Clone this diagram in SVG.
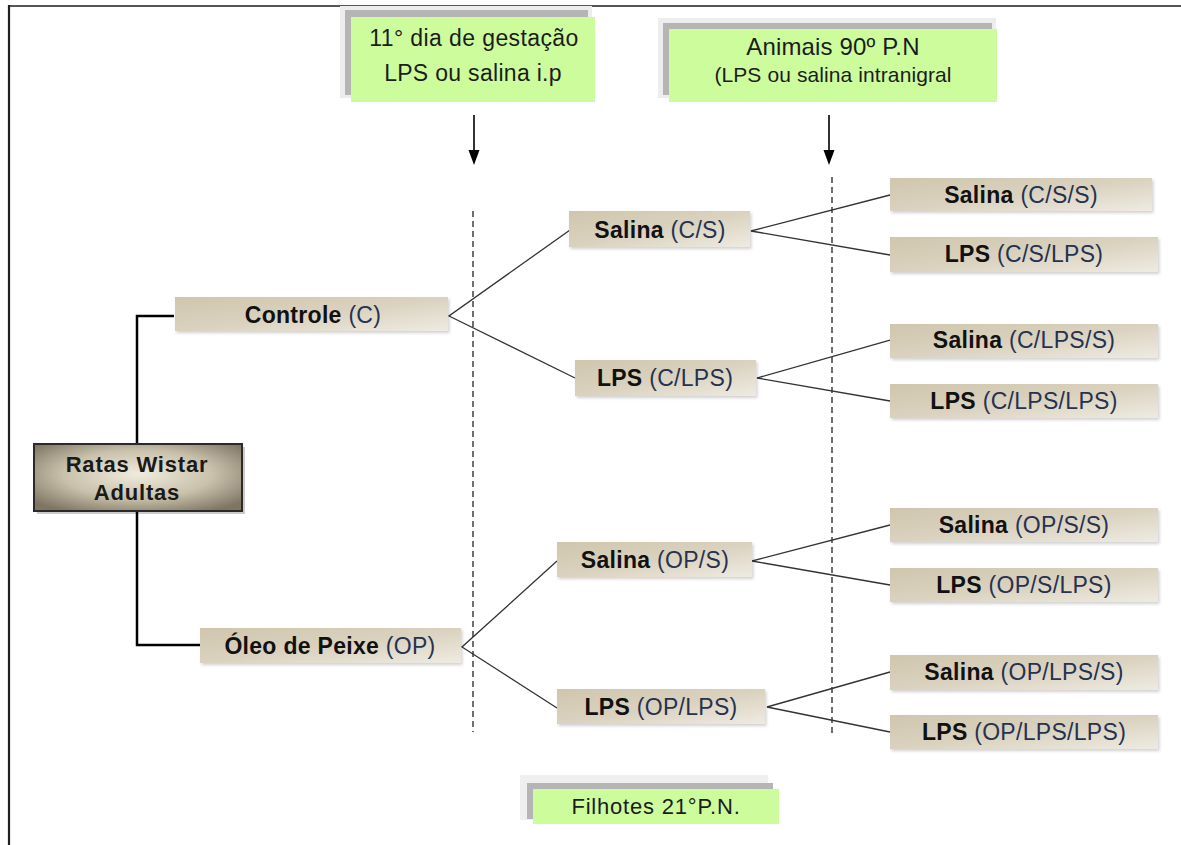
<svg xmlns="http://www.w3.org/2000/svg" width="1181" height="845" viewBox="0 0 1181 845">
<defs>
<style>
text{font-family:"Liberation Sans",Arial,sans-serif;}
.nt{font-size:23px;letter-spacing:0.3px;fill:#26324f;text-anchor:middle;}
.nt tspan.b{font-weight:bold;fill:#111;}
.gt{fill:#1c1c1c;text-anchor:middle;}
.conn{stroke:#333;stroke-width:1.3;fill:none;}
.tree{stroke:#000;stroke-width:2.5;fill:none;}
.dash{stroke:#222;stroke-width:1.3;stroke-dasharray:6,4;fill:none;}
.arr{stroke:#000;stroke-width:1.6;fill:none;}
.node{fill:url(#beige);filter:url(#sh);}
.green{fill:#cdfc9d;}
.gshadow{fill:#b5b5b5;}
</style>
<linearGradient id="beige" x1="0" y1="0" x2="1" y2="1">
<stop offset="0" stop-color="#d0c6ae"/>
<stop offset="0.5" stop-color="#dad2bf"/>
<stop offset="1" stop-color="#efebe2"/>
</linearGradient>
<radialGradient id="root" cx="0.5" cy="0.45" r="0.65">
<stop offset="0" stop-color="#f0ebdc"/>
<stop offset="0.55" stop-color="#c9c1ab"/>
<stop offset="1" stop-color="#7e7663"/>
</radialGradient>
<filter id="sh" x="-5%" y="-20%" width="112%" height="150%">
<feDropShadow dx="1.5" dy="2" stdDeviation="1.5" flood-color="#000" flood-opacity="0.18"/>
</filter>
</defs>
<rect width="1181" height="845" fill="#fff"/>
<!-- frame -->
<line x1="8" y1="6" x2="1181" y2="6" stroke="#555" stroke-width="2.2"/>
<line x1="9" y1="5" x2="9" y2="845" stroke="#222" stroke-width="2.2"/>

<!-- connectors -->
<g id="connectors">
<polyline class="tree" points="174,316 137,316 137,444"/>
<polyline class="tree" points="137,511 137,645 200,645"/>
<line class="dash" x1="473" y1="211" x2="473" y2="732"/>
<line class="dash" x1="832" y1="177" x2="832" y2="736"/>
<path class="arr" d="M474,115 V152"/>
<path d="M468.5,150 L479.5,150 L474,165 Z" fill="#000"/>
<path class="arr" d="M829,115 V152"/>
<path d="M823.5,150 L834.5,150 L829,165 Z" fill="#000"/>
<polyline class="conn" points="570,230 449,316 575,378"/>
<polyline class="conn" points="890,195 751,231 890,255"/>
<polyline class="conn" points="890,340 757,378 890,401"/>
<polyline class="conn" points="557,561 462,647 557,708"/>
<polyline class="conn" points="890,525 752,561 890,585"/>
<polyline class="conn" points="890,672 767,707 890,732"/>
</g>

<!-- top label boxes -->
<g id="label-gestacao">
<rect x="340" y="6" width="252" height="92" fill="#ededed"/>
<rect class="gshadow" x="345" y="10" width="243" height="85"/>
<rect class="green" x="351" y="17" width="244" height="85"/>
<text class="gt" x="474" y="46" font-size="23" letter-spacing="0.4">11° dia de gestação</text>
<text class="gt" x="473" y="81" font-size="23" letter-spacing="0.3">LPS ou salina  i.p</text>
</g>
<g id="label-animais">
<rect x="658" y="18" width="338" height="80" fill="#ededed"/>
<rect class="gshadow" x="663" y="23" width="329" height="72"/>
<rect class="green" x="669" y="29" width="328" height="73"/>
<text class="gt" x="833" y="55" font-size="24" letter-spacing="0.15">Animais 90º P.N</text>
<text class="gt" x="833" y="82" font-size="21" letter-spacing="0.1">(LPS ou salina  intranigral</text>
</g>
<g id="label-filhotes">
<rect x="520" y="775" width="248" height="45" fill="#efefef"/>
<rect class="gshadow" x="527" y="783" width="246" height="36"/>
<rect class="green" x="533" y="789" width="246" height="35"/>
<text class="gt" x="656" y="814" font-size="22" letter-spacing="0.8">Filhotes 21°P.N.</text>
</g>

<!-- root -->
<g id="node-ratas">
<rect x="37" y="447" width="208" height="67" fill="#000" opacity="0.2"/>
<rect x="34" y="444" width="208" height="67" fill="url(#root)" stroke="#2a2a2a" stroke-width="2"/>
<text x="137" y="472" font-size="22" letter-spacing="0.8" font-weight="bold" text-anchor="middle" fill="#1a1a1a">Ratas  Wistar</text>
<text x="137" y="500" font-size="22" letter-spacing="0.8" font-weight="bold" text-anchor="middle" fill="#1a1a1a">Adultas</text>
</g>

<g id="node-controle"><rect class="node" x="175" y="297" width="273" height="34"/>
<text class="nt" x="313" y="323"><tspan class="b">Controle</tspan> (C)</text></g>
<g id="node-oleo"><rect class="node" x="200" y="628" width="261" height="35"/>
<text class="nt" x="330" y="654"><tspan class="b">Óleo de Peixe</tspan>  (OP)</text></g>

<g id="node-cs"><rect class="node" x="569" y="211" width="181" height="36"/>
<text class="nt" x="660" y="238"><tspan class="b">Salina</tspan> (C/S)</text></g>
<g id="node-clps"><rect class="node" x="575" y="360" width="181" height="36"/>
<text class="nt" x="665" y="386"><tspan class="b">LPS</tspan> (C/LPS)</text></g>
<g id="node-ops"><rect class="node" x="557" y="542" width="195" height="35"/>
<text class="nt" x="655" y="568"><tspan class="b">Salina</tspan> (OP/S)</text></g>
<g id="node-oplps"><rect class="node" x="557" y="689" width="208" height="35"/>
<text class="nt" x="661" y="715"><tspan class="b">LPS</tspan> (OP/LPS)</text></g>

<g id="node-css"><rect class="node" x="890" y="178" width="262" height="33"/>
<text class="nt" x="1021" y="203"><tspan class="b">Salina</tspan> (C/S/S)</text></g>
<g id="node-cslps"><rect class="node" x="890" y="237" width="268" height="35"/>
<text class="nt" x="1024" y="262"><tspan class="b">LPS</tspan> (C/S/LPS)</text></g>
<g id="node-clpss"><rect class="node" x="890" y="324" width="268" height="34"/>
<text class="nt" x="1024" y="348"><tspan class="b">Salina</tspan>  (C/LPS/S)</text></g>
<g id="node-clpslps"><rect class="node" x="890" y="384" width="268" height="34"/>
<text class="nt" x="1024" y="409"><tspan class="b">LPS</tspan> (C/LPS/LPS)</text></g>
<g id="node-opss"><rect class="node" x="890" y="508" width="268" height="34"/>
<text class="nt" x="1024" y="533"><tspan class="b">Salina</tspan> (OP/S/S)</text></g>
<g id="node-opslps"><rect class="node" x="890" y="568" width="268" height="34"/>
<text class="nt" x="1024" y="593"><tspan class="b">LPS</tspan> (OP/S/LPS)</text></g>
<g id="node-oplpss"><rect class="node" x="890" y="655" width="268" height="35"/>
<text class="nt" x="1024" y="680"><tspan class="b">Salina</tspan> (OP/LPS/S)</text></g>
<g id="node-oplpslps"><rect class="node" x="890" y="715" width="268" height="34"/>
<text class="nt" x="1024" y="740"><tspan class="b">LPS</tspan> (OP/LPS/LPS)</text></g>
</svg>
